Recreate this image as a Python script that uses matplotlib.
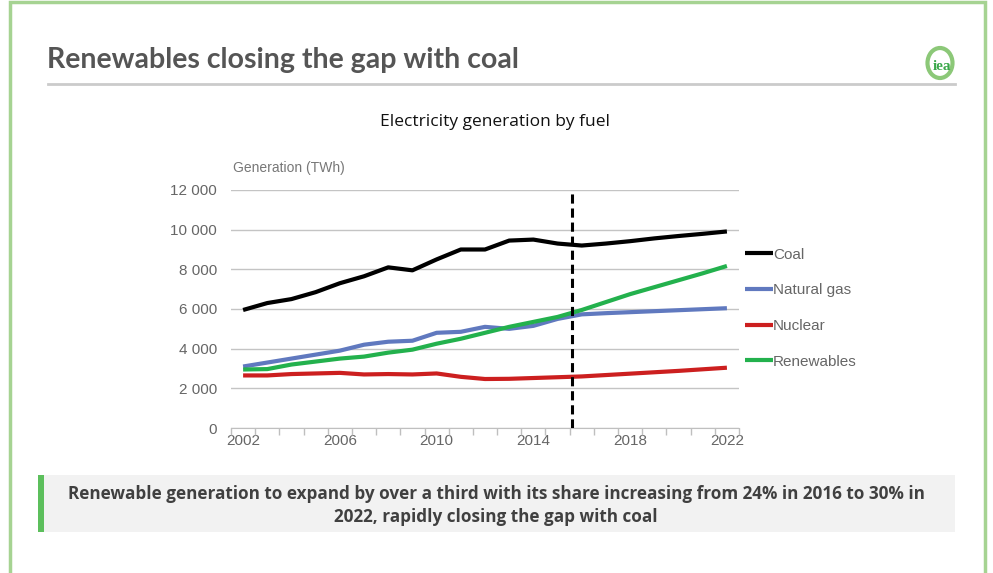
import matplotlib
matplotlib.use("Agg")
import matplotlib.pyplot as plt
from matplotlib.patches import Rectangle, Ellipse
from matplotlib.lines import Line2D

years = list(range(2002, 2023))
coal = [5950, 6300, 6500, 6850, 7300, 7650, 8100, 7950, 8500, 9000, 9000,
        9450, 9500, 9300, 9200, 9300, 9420, 9560, 9680, 9790, 9910]
natural_gas = [3100, 3300, 3500, 3700, 3900, 4200, 4350, 4400, 4800, 4850, 5100,
               5000, 5150, 5500, 5730, 5790, 5840, 5890, 5940, 5990, 6040]
nuclear = [2650, 2650, 2720, 2750, 2780, 2700, 2720, 2700, 2750, 2580, 2470,
           2480, 2520, 2560, 2600, 2670, 2740, 2810, 2880, 2960, 3040]
renewables = [2950, 2970, 3200, 3350, 3500, 3600, 3800, 3950, 4250, 4500, 4800,
              5100, 5350, 5600, 5950, 6350, 6750, 7100, 7450, 7800, 8170]
series_names = ["Coal", "Natural gas", "Nuclear", "Renewables"]
series_colors = ["#000000", "#6079bf", "#cc1f1f", "#23b14d"]
tick_years = [2002, 2006, 2010, 2014, 2018, 2022]
yticks = [0, 2000, 4000, 6000, 8000, 10000, 12000]
forecast_start = 2015.6

W, H = 993, 573
fig = plt.figure(figsize=(W / 100, H / 100), dpi=100)

def fx(px):
    return px / W

def fy(py):
    return 1 - py / H

# Border
fig.patches.append(Rectangle((fx(10), fy(600)), fx(975), 598 / H, transform=fig.transFigure,
                             fill=False, edgecolor="#a6d392", linewidth=2.5))

# Title
fig.text(fx(47), fy(60), "Renewables closing the gap with coal", fontsize=20.5, fontweight="bold",
         color="#555555", family="Lato", va="center", ha="left")
fig.add_artist(Line2D([fx(48), fx(955)], [fy(84), fy(84)], transform=fig.transFigure,
                      color="#cbcbcb", linewidth=2))
# IEA logo
fig.patches.append(Ellipse((fx(940), fy(63)), 25 / W, 30 / H, transform=fig.transFigure,
                           fill=False, edgecolor="#8cc878", linewidth=3))
fig.text(fx(942), fy(66), "iea", fontsize=11, fontweight="bold", color="#3aa84a",
         family="Liberation Serif", ha="center", va="center")

# Chart title
fig.text(fx(495), fy(122), "Electricity generation by fuel", fontsize=12.5, color="#111111",
         family="Open Sans", ha="center", va="center")

ax = fig.add_axes([fx(231), fy(428), fx(739 - 231), (428 - 190) / H])
data = [coal, natural_gas, nuclear, renewables]
for name, vals, col in zip(series_names, data, series_colors):
    ax.plot(years, vals, color=col, linewidth=3, label=name, solid_capstyle="butt")

ax.axvline(forecast_start, color="black", linestyle=(0, (3, 1.6)), linewidth=2.2, zorder=5)

ax.set_xlim(2001.5, 2022.5)
ax.set_ylim(0, 12000)
ax.set_yticks(yticks)
ax.set_yticklabels([f"{v:,}".replace(",", " ") for v in yticks])
ax.set_xticks(tick_years)
ax.set_xticks([y - 0.5 for y in years] + [2022.5], minor=True)
ax.tick_params(axis="x", which="major", length=0, pad=4)
ax.tick_params(axis="x", which="minor", length=5, color="#bfbfbf", width=1)
ax.tick_params(axis="y", length=0, pad=10)
for lab in ax.get_xticklabels() + ax.get_yticklabels():
    lab.set_family("Liberation Sans")
    lab.set_fontsize(11)
    lab.set_color("#666666")
ax.grid(axis="y", color="#c4c4c4", linewidth=1)
ax.set_axisbelow(True)
for s in ["left", "right", "top"]:
    ax.spines[s].set_visible(False)
ax.spines["bottom"].set_color("#bfbfbf")

fig.text(fx(233), fy(168), "Generation (TWh)", fontsize=10, color="#777777",
         family="Liberation Sans", ha="left", va="center")

leg = ax.legend(loc="upper left", bbox_to_anchor=(fx(731), fy(234)), bbox_transform=fig.transFigure,
                frameon=False, handlelength=1.85, handletextpad=0.0, labelspacing=1.42,
                prop={"family": "Liberation Sans", "size": 11})
for t in leg.get_texts():
    t.set_color("#666666")

# Bottom box
fig.patches.append(Rectangle((fx(42), fy(532)), fx(955 - 42), (532 - 475) / H,
                             transform=fig.transFigure, facecolor="#f2f2f2", edgecolor="none"))
fig.patches.append(Rectangle((fx(38), fy(532)), fx(6), (532 - 475) / H,
                             transform=fig.transFigure, facecolor="#5cbf5c", edgecolor="none"))
fig.text(fx(496), fy(505.5), "Renewable generation to expand by over a third with its share increasing from 24% in 2016 to 30% in\n2022, rapidly closing the gap with coal",
         fontsize=12.3, fontweight="bold", color="#404040", family="Open Sans",
         ha="center", va="center", linespacing=1.3)

fig.savefig("out.png", dpi=100, facecolor="white")
